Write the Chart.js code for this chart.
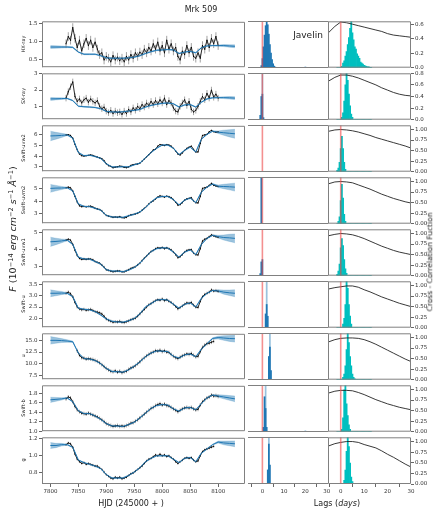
<!DOCTYPE html>
<html>
<head>
<meta charset="utf-8">
<script src="https://cdn.jsdelivr.net/npm/chart.js@4.4.0/dist/chart.umd.min.js"></script>
<style>
  body { margin:0; background:#fff; width:439px; height:510px; position:relative; overflow:hidden; font-family:"DejaVu Sans", sans-serif; }
  canvas { position:absolute; }
  .txt { position:absolute; white-space:nowrap; color:#222; transform:translate(-50%,-50%); line-height:1; }
  .rot { transform:translate(-50%,-50%) rotate(-90deg); }
  sup { font-size:70%; vertical-align:0.45em; line-height:0; }
</style>
</head>
<body>
<script>
// ---- light curves (HJD - 2450000), one point every 4 days ----
const hjd = [7828,7832,7836,7840,7844,7848,7852,7856,7860,7864,
  7868,7872,7876,7880,7884,7888,7892,7896,7900,7904,
  7908,7912,7916,7920,7924,7928,7932,7936,7940,7944,
  7948,7952,7956,7960,7964,7968,7972,7976,7980,7984,
  7988,7992,7996,8000,8004,8008,8012,8016,8020,8024,
  8028,8032,8036,8040,8044,8048,8052,8056,8060,8064,
  8068,8072,8076,8080,8084,8088,8092,8096,8100];

const lcHX = [0.95,1.15,1.05,1.40,1.10,0.85,1.05,0.75,0.95,1.10,
  0.90,1.05,0.85,1.00,0.80,0.65,0.70,0.50,0.60,0.55,
  0.45,0.62,0.50,0.58,0.48,0.55,0.45,0.60,0.50,0.65,
  0.55,0.70,0.60,0.72,0.65,0.80,0.70,0.85,0.75,0.95,
  0.80,1.00,0.75,0.90,0.70,1.05,0.80,0.95,0.75,0.85,
  0.60,0.50,0.75,0.65,0.90,0.70,0.85,0.60,0.55,0.70,
  0.55,0.90,0.80,1.05,0.85,1.10,0.95,1.15,0.90];
const lcSX = [1.50,1.90,2.20,2.50,1.60,1.30,1.45,1.20,1.40,1.50,
  1.25,1.45,1.30,1.20,1.35,1.00,0.85,0.95,0.70,0.60,
  0.75,0.55,0.70,0.60,0.65,0.50,0.70,0.55,0.80,0.65,
  0.90,0.75,1.00,0.85,1.10,0.95,1.20,1.05,1.30,1.10,
  1.35,1.15,1.40,1.20,1.50,1.10,1.35,1.20,0.90,0.70,
  0.65,1.00,1.20,1.40,1.05,1.30,0.80,0.65,0.75,1.00,
  1.30,1.60,1.40,1.80,1.50,2.00,1.55,1.75,1.50];
const lcW2 = [6.00,6.02,5.95,5.70,5.10,4.60,4.20,4.05,4.02,4.05,
  4.08,4.12,4.08,3.98,3.92,3.85,3.78,3.60,3.30,3.12,
  3.05,2.92,2.98,3.02,3.08,3.05,2.95,2.93,3.00,3.15,
  3.22,3.25,3.28,3.35,3.55,3.75,3.95,4.15,4.35,4.60,
  4.65,4.95,5.10,5.05,5.00,5.10,5.05,4.95,4.75,4.50,
  4.20,4.12,4.30,4.55,4.75,4.85,4.95,4.65,4.40,4.40,
  5.20,5.95,6.00,6.05,6.30,6.42,6.30,6.25,6.28];
const lcM2 = [5.10,5.15,5.10,4.85,4.40,3.95,3.65,3.58,3.60,3.57,
  3.60,3.62,3.55,3.45,3.40,3.35,3.25,3.05,2.88,2.82,
  2.78,2.72,2.75,2.73,2.78,2.70,2.68,2.72,2.85,2.92,
  2.95,3.00,3.05,3.15,3.30,3.45,3.60,3.80,3.95,4.05,
  4.20,4.35,4.45,4.40,4.35,4.42,4.38,4.30,4.15,3.95,
  3.70,3.75,3.90,4.10,4.20,4.25,4.30,4.05,3.90,3.88,
  4.40,5.05,5.10,5.15,5.30,5.45,5.30,5.25,5.20];
const lcW1 = [4.55,4.60,4.55,4.30,3.95,3.65,3.48,3.42,3.45,3.42,
  3.45,3.44,3.40,3.30,3.25,3.20,3.10,2.98,2.82,2.78,
  2.74,2.70,2.72,2.75,2.74,2.70,2.70,2.76,2.82,2.90,
  2.95,3.00,3.10,3.20,3.35,3.50,3.62,3.75,3.88,3.95,
  4.05,4.10,4.08,4.12,4.05,4.10,4.05,3.98,3.85,3.70,
  3.52,3.58,3.70,3.85,3.95,3.98,4.00,3.80,3.70,3.68,
  4.05,4.50,4.60,4.65,4.75,4.85,4.80,4.75,4.72];
const lcSU = [3.10,3.15,3.08,2.95,2.70,2.50,2.42,2.38,2.40,2.36,
  2.38,2.40,2.35,2.30,2.28,2.25,2.20,2.10,1.98,1.92,
  1.88,1.84,1.86,1.85,1.88,1.83,1.82,1.86,1.90,1.95,
  1.98,2.02,2.10,2.20,2.30,2.40,2.50,2.60,2.65,2.72,
  2.78,2.82,2.80,2.85,2.78,2.82,2.75,2.70,2.62,2.52,
  2.42,2.48,2.55,2.62,2.68,2.66,2.70,2.58,2.50,2.48,
  2.75,2.95,3.05,3.10,3.15,3.25,3.20,3.22,3.18];
const lcU = [null,null,null,null,null,12.8,11.8,11.3,11.2,11.0,
  11.1,11.0,10.9,10.7,10.5,10.2,9.8,9.4,9.0,8.7,
  8.4,8.3,8.5,8.2,8.4,8.1,8.3,8.4,8.8,9.1,
  9.3,9.6,10.0,10.4,10.9,11.3,11.7,12.0,12.3,12.5,
  12.8,12.7,12.9,12.6,12.8,12.5,12.4,12.0,11.6,11.3,
  11.1,11.4,11.7,11.9,12.1,12.0,12.2,11.8,11.5,11.6,
  12.6,13.5,14.0,14.3,14.4,14.6,14.8,null,null];
const lcSB = [1.68,1.72,1.70,1.62,1.52,1.45,1.41,1.38,1.37,1.36,
  1.38,1.36,1.34,1.32,1.30,1.27,1.24,1.20,1.16,1.14,
  1.12,1.10,1.11,1.12,1.10,1.11,1.10,1.12,1.14,1.17,
  1.18,1.21,1.24,1.28,1.32,1.36,1.40,1.44,1.48,1.50,
  1.54,1.56,1.58,1.55,1.57,1.54,1.53,1.50,1.47,1.44,
  1.41,1.44,1.47,1.49,1.50,1.49,1.50,1.47,1.45,1.46,
  1.55,1.62,1.66,1.70,1.72,1.76,1.74,1.75,1.73];
const lcG = [1.13,1.15,1.14,1.10,1.02,0.96,0.93,0.91,0.92,0.90,
  0.91,0.90,0.89,0.88,0.88,0.86,0.84,0.81,0.78,0.76,
  0.74,0.73,0.75,0.74,0.75,0.73,0.74,0.75,0.77,0.79,
  0.80,0.82,0.84,0.86,0.88,0.91,0.94,0.96,0.97,0.99,
  1.01,1.00,1.02,1.00,1.01,0.99,1.00,0.98,0.96,0.93,
  0.91,0.93,0.95,0.97,0.98,0.97,0.98,0.95,0.93,0.94,
  1.00,1.05,1.07,1.08,1.09,1.10,1.11,null,null];
const lcErr = [0.12, 0.2, 0.06, 0.08, 0.07, 0.07, 0.4, 0.04, 0.015];

// ---- Javelin model mean and 1-sigma, every 10 days ----
const modelDays = [7800,7810,7820,7830,7840,7850,7860,7870,7880,7890,
  7900,7910,7920,7930,7940,7950,7960,7970,7980,7990,
  8000,8010,8020,8030,8040,8050,8060,8070,8080,8090,
  8100,8110,8120,8130];
const mdHX = [0.86,0.86,0.86,0.86,0.85,0.72,0.66,0.66,0.66,0.62,
  0.56,0.55,0.55,0.55,0.56,0.58,0.62,0.68,0.73,0.77,
  0.78,0.79,0.78,0.68,0.72,0.74,0.70,0.84,0.89,0.90,
  0.90,0.90,0.89,0.88];
const sdHX = [0.04,0.035,0.028,0.018,0.015,0.015,0.015,0.015,0.015,0.015,
  0.015,0.015,0.015,0.015,0.015,0.015,0.015,0.015,0.015,0.015,
  0.015,0.015,0.015,0.015,0.015,0.015,0.015,0.015,0.015,0.015,
  0.018,0.028,0.035,0.04];
const mdSX = [1.45,1.46,1.47,1.48,1.35,1.00,0.97,0.95,0.92,0.85,
  0.68,0.65,0.64,0.66,0.70,0.75,0.80,0.95,1.05,1.12,
  1.18,1.20,1.15,0.95,1.08,1.10,0.95,1.25,1.45,1.52,
  1.53,1.53,1.52,1.50];
const sdSX = [0.09,0.07,0.05,0.03,0.03,0.03,0.03,0.03,0.03,0.03,
  0.03,0.03,0.03,0.03,0.03,0.03,0.03,0.03,0.03,0.03,
  0.03,0.03,0.03,0.03,0.03,0.03,0.03,0.03,0.03,0.03,
  0.04,0.06,0.08,0.09];
const mdW2 = [5.90,5.92,5.95,6.00,5.70,4.35,4.05,4.10,3.98,3.80,
  3.30,3.00,3.00,3.02,3.00,3.20,3.35,3.85,4.35,4.75,
  5.05,5.05,4.75,4.15,4.55,4.85,4.40,5.60,6.05,6.35,
  6.25,6.20,6.15,6.10];
const sdW2 = [0.45,0.32,0.20,0.06,0.04,0.04,0.04,0.04,0.04,0.04,
  0.04,0.04,0.04,0.04,0.04,0.04,0.04,0.04,0.04,0.04,
  0.04,0.04,0.04,0.04,0.04,0.04,0.04,0.04,0.04,0.04,
  0.12,0.24,0.34,0.42];
const mdM2 = [5.05,5.07,5.08,5.10,4.85,3.80,3.60,3.58,3.45,3.30,
  2.88,2.75,2.74,2.72,2.85,2.97,3.15,3.50,3.95,4.30,
  4.40,4.40,4.15,3.72,4.10,4.28,3.90,4.75,5.15,5.40,
  5.22,5.20,5.18,5.15];
const sdM2 = [0.32,0.22,0.13,0.04,0.035,0.035,0.035,0.035,0.035,0.035,
  0.035,0.035,0.035,0.035,0.035,0.035,0.035,0.035,0.035,0.035,
  0.035,0.035,0.035,0.035,0.035,0.035,0.035,0.035,0.035,0.035,
  0.10,0.18,0.25,0.32];
const mdW1 = [4.45,4.47,4.50,4.55,4.30,3.55,3.45,3.44,3.30,3.15,
  2.82,2.74,2.74,2.70,2.80,2.95,3.20,3.55,3.88,4.05,
  4.10,4.08,3.85,3.55,3.85,3.98,3.70,4.30,4.65,4.83,
  4.75,4.70,4.68,4.65];
const sdW1 = [0.27,0.19,0.11,0.04,0.03,0.03,0.03,0.03,0.03,0.03,
  0.03,0.03,0.03,0.03,0.03,0.03,0.03,0.03,0.03,0.03,
  0.03,0.03,0.03,0.03,0.03,0.03,0.03,0.03,0.03,0.03,
  0.08,0.15,0.21,0.26];
const mdSU = [3.10,3.10,3.11,3.10,2.95,2.45,2.40,2.38,2.30,2.15,
  1.98,1.88,1.85,1.84,1.90,2.00,2.20,2.50,2.65,2.80,
  2.83,2.80,2.62,2.45,2.62,2.68,2.50,2.88,3.10,3.22,
  3.20,3.15,3.12,3.10];
const sdSU = [0.15,0.11,0.07,0.025,0.02,0.02,0.02,0.02,0.02,0.02,
  0.02,0.02,0.02,0.02,0.02,0.02,0.02,0.02,0.02,0.02,
  0.02,0.02,0.02,0.02,0.02,0.02,0.02,0.02,0.02,0.02,
  0.05,0.09,0.12,0.15];
const mdU = [15.00,15.00,14.95,14.85,14.70,12.30,11.10,11.00,10.70,10.00,
  9.00,8.35,8.30,8.20,8.70,9.50,10.40,11.50,12.30,12.75,
  12.70,12.60,11.60,11.20,11.90,12.10,11.50,13.10,14.30,15.40,
  15.60,15.50,15.40,15.35];
const sdU = [0.80,0.60,0.42,0.28,0.15,0.10,0.10,0.10,0.10,0.10,
  0.10,0.10,0.10,0.10,0.10,0.10,0.10,0.10,0.10,0.10,
  0.10,0.10,0.10,0.10,0.10,0.10,0.10,0.10,0.10,0.15,
  0.30,0.50,0.62,0.72];
const mdSB = [1.66,1.67,1.68,1.70,1.62,1.43,1.37,1.37,1.32,1.25,
  1.16,1.11,1.11,1.10,1.14,1.19,1.28,1.38,1.48,1.54,
  1.56,1.55,1.47,1.42,1.49,1.50,1.45,1.58,1.70,1.76,
  1.74,1.72,1.70,1.68];
const sdSB = [0.055,0.04,0.025,0.01,0.01,0.01,0.01,0.01,0.01,0.01,
  0.01,0.01,0.01,0.01,0.01,0.01,0.01,0.01,0.01,0.01,
  0.01,0.01,0.01,0.01,0.01,0.01,0.01,0.01,0.01,0.01,
  0.025,0.04,0.05,0.06];
const mdG = [1.12,1.12,1.13,1.13,1.10,0.95,0.92,0.90,0.88,0.85,
  0.78,0.74,0.74,0.74,0.77,0.81,0.86,0.93,0.97,1.00,
  1.00,1.00,0.96,0.92,0.97,0.98,0.93,1.03,1.08,1.13,
  1.16,1.15,1.145,1.14];
const sdG = [0.035,0.025,0.015,0.006,0.005,0.005,0.005,0.005,0.005,0.005,
  0.005,0.005,0.005,0.005,0.005,0.005,0.005,0.005,0.005,0.005,
  0.005,0.005,0.005,0.005,0.005,0.005,0.005,0.005,0.005,0.005,
  0.012,0.022,0.028,0.034];

// ---- Javelin lag posteriors (middle column), normalised counts ----
const midBins = [-1,-0.5,0,0.5,1,1.5,2,2.5,3,3.5,4,4.5,5,5.5,6,6.5,19.5,20,20.5];
const jvHX = [0,0.05,0.2,0.45,0.7,0.9,1.0,0.92,0.72,0.5,0.32,0.18,0.09,0.04,0.02,0.01,0.01,0.02,0.01];
const jvSX = [0.1,0.5,0.55,0.05,0,0,0,0,0,0,0,0,0,0,0,0,0,0,0];
const jvSXb = [0,0,1.0,0,0,0,0,0,0,0,0,0,0,0,0,0,0,0,0];
const jvW2 = [0,0,0,0,0,0,0,0,0,0,0,0,0,0,0,0,0,0,0];
const jvM2 = [0,1.0,0,0,0,0,0,0,0,0,0,0,0,0,0,0,0,0,0];
const jvW1 = [0.05,0.3,0.35,0,0,0,0,0,0,0,0,0,0,0,0,0,0,0,0];
const jvSU = [0,0,0,0,0,0.3,0.5,0.25,0,0,0,0,0,0,0,0,0,0,0];
const jvSUb = [0,0,0,0,0,0,1.0,0,0,0,0,0,0,0,0,0,0,0,0];
const jvU = [0,0,0,0,0,0,0,0,0.5,0.7,0.2,0,0,0,0,0,0,0,0];
const jvUb = [0,0,0,0,0,0,0,0,0,1.0,0,0,0,0,0,0,0,0,0];
const jvSB = [0,0,0,0.1,0.75,0.5,0.1,0,0,0,0,0,0,0,0,0,0,0.02,0];
const jvSBb = [0,0,0,0,0,1.0,0,0,0,0,0,0,0,0,0,0,0,0,0];
const jvG = [0,0,0,0,0,0,0,0.3,0.85,0.4,0,0,0,0,0,0,0,0,0];
const jvGb = [0,0,0,0,0,0,0,0,1.0,0,0,0,0,0,0,0,0,0,0];

// ---- ICCF centroid distributions (right column, cyan) ----
const ccBins = [-1.5,-1,-0.5,0,0.5,1,1.5,2,2.5,3,3.5,4,4.5,5,5.5,6,6.5,7,7.5,8,8.5,9,9.5,10,10.5,11,11.5,12,12.5,13];
const chHX = [0,0,0,0,0.03,0.1,0.15,0.25,0.35,0.5,0.65,0.85,1.0,0.75,0.6,0.45,0.4,0.3,0.25,0.2,0.12,0.1,0.08,0.05,0.04,0.03,0.02,0.02,0.01,0.01];
const chSX = [0,0,0,0,0.05,0.15,0.4,0.75,1.0,0.85,0.55,0.3,0.12,0.05,0,0,0,0,0,0,0,0,0,0,0,0,0,0,0,0];
const chW2 = [0.03,0.08,0.2,0.5,0.76,0.5,0.2,0.05,0,0,0,0,0,0,0,0,0,0,0,0,0,0,0,0,0,0,0,0,0,0];
const chM2 = [0,0.05,0.15,0.5,0.85,0.55,0.2,0.05,0,0,0,0,0,0,0,0,0,0,0,0,0,0,0,0,0,0,0,0,0,0];
const chW1 = [0.03,0.1,0.25,0.6,0.8,0.65,0.35,0.15,0.05,0,0,0,0,0,0,0,0,0,0,0,0,0,0,0,0,0,0,0,0,0];
const chSU = [0,0,0,0,0,0.08,0.2,0.5,1.0,0.85,0.5,0.25,0.08,0,0,0,0,0,0,0,0,0,0,0,0,0,0,0,0,0];
const chU = [0,0,0,0,0,0.05,0.12,0.3,0.65,1.0,0.8,0.5,0.3,0.12,0.05,0.02,0,0,0,0,0,0,0,0,0,0,0,0,0,0];
const chSB = [0,0,0,0,0.05,0.3,0.9,1.0,0.6,0.35,0.15,0.05,0,0,0,0,0,0,0,0,0,0,0,0,0,0,0,0,0,0];
const chG = [0,0,0,0,0,0,0.08,0.3,0.7,1.0,0.8,0.45,0.15,0.05,0,0,0,0,0,0,0,0,0,0,0,0,0,0,0,0];

// ---- cross-correlation functions ----
const ccfLags = [-5,-2.5,0,2.5,5,7.5,10,12.5,15,17.5,20,22.5,25,27.5,30];
const ccfHX = [0.49,0.57,0.63,0.62,0.60,0.58,0.56,0.54,0.52,0.50,0.47,0.45,0.44,0.43,0.42];
const ccfSX = [0.67,0.73,0.77,0.77,0.75,0.72,0.68,0.64,0.60,0.55,0.51,0.47,0.44,0.42,0.41];
const ccfW2 = [0.96,0.99,1.00,0.99,0.97,0.94,0.90,0.86,0.81,0.77,0.73,0.69,0.65,0.61,0.56];
const ccfM2 = [0.95,0.99,1.00,0.99,0.97,0.92,0.87,0.82,0.76,0.70,0.65,0.60,0.56,0.52,0.49];
const ccfW1 = [0.95,0.98,1.00,0.99,0.97,0.93,0.88,0.82,0.76,0.70,0.65,0.60,0.56,0.53,0.50];
const ccfSU = [0.92,0.95,0.97,0.99,0.99,0.96,0.90,0.85,0.79,0.73,0.68,0.63,0.58,0.54,0.50];
const ccfU = [0.90,0.95,0.98,0.99,0.99,0.98,0.95,0.90,0.84,0.77,0.70,0.63,0.56,0.49,0.43];
const ccfSB = [0.92,0.96,0.98,0.98,0.97,0.93,0.88,0.82,0.76,0.71,0.66,0.62,0.58,0.55,0.52];
const ccfG = [0.90,0.95,0.98,1.00,1.00,0.98,0.93,0.89,0.85,0.78,0.70,0.63,0.55,0.47,0.40];

const bandNames = ['HX-ray','SX-ray','Swift-uvw2','Swift-uvm2','Swift-uvw1','Swift-u','u','Swift-b','g'];

// ---- assemble rows ----
const rows = [
  {lc:lcHX, md:mdHX, sd:sdHX, jv:jvHX, jvb:null,  ch:chHX, ccf:ccfHX},
  {lc:lcSX, md:mdSX, sd:sdSX, jv:jvSX, jvb:jvSXb, ch:chSX, ccf:ccfSX},
  {lc:lcW2, md:mdW2, sd:sdW2, jv:jvW2, jvb:null,  ch:chW2, ccf:ccfW2},
  {lc:lcM2, md:mdM2, sd:sdM2, jv:jvM2, jvb:null,  ch:chM2, ccf:ccfM2},
  {lc:lcW1, md:mdW1, sd:sdW1, jv:jvW1, jvb:null,  ch:chW1, ccf:ccfW1},
  {lc:lcSU, md:mdSU, sd:sdSU, jv:jvSU, jvb:jvSUb, ch:chSU, ccf:ccfSU},
  {lc:lcU,  md:mdU,  sd:sdU,  jv:jvU,  jvb:jvUb,  ch:chU,  ccf:ccfU},
  {lc:lcSB, md:mdSB, sd:sdSB, jv:jvSB, jvb:jvSBb, ch:chSB, ccf:ccfSB},
  {lc:lcG,  md:mdG,  sd:sdG,  jv:jvG,  jvb:jvGb,  ch:chG,  ccf:ccfG}
];

// axis setup per row
const yMin  = [0.3, 0.2, 2.6, 2.25, 2.5, 1.62, 6.7, 1.0, 0.67];
const yMax  = [1.56, 3.0, 6.85, 5.9, 5.15, 3.6, 16.4, 1.955, 1.21];
const yStep = [0.5, 1, 1, 1, 1, 0.5, 2.5, 0.2, 0.2];
const yDec  = [1, 0, 0, 0, 0, 1, 1, 1, 1];
const ccMax = [0.64, 0.8, 1.1, 1.1, 1.1, 1.1, 1.1, 1.1, 1.1];

Chart.defaults.font.family = "'DejaVu Sans', sans-serif";
Chart.defaults.font.size = 5.5;
Chart.defaults.color = '#333';

const BLUE = '#1f77b4';
const FRAME = '#808080';

function addCanvas(left, top, w, h) {
  const c = document.createElement('canvas');
  c.width = w; c.height = h;
  c.style.left = left + 'px'; c.style.top = top + 'px';
  c.style.width = w + 'px'; c.style.height = h + 'px';
  document.body.appendChild(c);
  return c;
}

function addText(html, x, y, size, rot) {
  const d = document.createElement('div');
  d.className = rot ? 'txt rot' : 'txt';
  d.style.left = x + 'px'; d.style.top = y + 'px';
  d.style.fontSize = size + 'px';
  d.innerHTML = html;
  document.body.appendChild(d);
}

function framePlugin(skipLeft) {
  return {
    id: 'frame',
    afterDraw(chart) {
      const a = chart.chartArea, ctx = chart.ctx;
      ctx.save();
      ctx.strokeStyle = FRAME; ctx.lineWidth = 1;
      ctx.beginPath();
      if (!skipLeft) { ctx.moveTo(a.left + 0.5, a.bottom); ctx.lineTo(a.left + 0.5, a.top); }
      else ctx.moveTo(a.left, a.top + 0.5);
      ctx.lineTo(a.right - 0.5, a.top + 0.5);
      ctx.lineTo(a.right - 0.5, a.bottom - 0.5);
      ctx.lineTo(a.left, a.bottom - 0.5);
      ctx.stroke();
      ctx.restore();
    }
  };
}

function errPlugin(ys, err) {
  return {
    id: 'errbars',
    beforeDatasetDraw(chart, args) {
      if (args.index !== 1) return;
      const x = chart.scales.x, y = chart.scales.y, a = chart.chartArea, ctx = chart.ctx;
      ctx.save();
      ctx.beginPath(); ctx.rect(a.left, a.top, a.right - a.left, a.bottom - a.top); ctx.clip();
      ctx.strokeStyle = '#8c8c8c'; ctx.lineWidth = 0.8;
      ctx.beginPath();
      hjd.forEach((d, k) => {
        if (ys[k] == null) return;
        const px = x.getPixelForValue(d);
        ctx.moveTo(px, y.getPixelForValue(ys[k] - err));
        ctx.lineTo(px, y.getPixelForValue(ys[k] + err));
      });
      ctx.stroke();
      ctx.restore();
    }
  };
}

const zeroLine = {
  id: 'zeroLine',
  afterDatasetsDraw(chart) {
    const a = chart.chartArea, ctx = chart.ctx;
    const px = chart.scales.x.getPixelForValue(0);
    ctx.save();
    ctx.strokeStyle = 'rgba(236,70,70,0.6)'; ctx.lineWidth = 1.6;
    ctx.beginPath(); ctx.moveTo(px, a.top); ctx.lineTo(px, a.bottom); ctx.stroke();
    ctx.restore();
  }
};

const common = {
  responsive: false, animation: false, devicePixelRatio: 1, events: [],
  plugins: { legend: { display: false }, tooltip: { enabled: false } }
};
const tickGrid = { display: true, drawOnChartArea: false, drawTicks: true, tickLength: 3, color: '#666' };

function xAxis(min, max, show) {
  return {
    type: 'linear', min: min, max: max, display: show, offset: false,
    afterFit: s => { s.height = show ? 16 : 0; },
    ticks: { stepSize: min > 1000 ? 50 : 10, includeBounds: false, autoSkip: false, maxRotation: 0,
             padding: 1, callback: v => String(v) },
    grid: tickGrid, border: { display: false }
  };
}

rows.forEach((r, i) => {
  const last = i === rows.length - 1;
  const T = 21 + 52 * i;
  const h = last ? 67 : 55;
  const pad = { top: 4, bottom: last ? 0 : 4 };

  // light curve + Javelin model
  const up = modelDays.map((d, k) => ({ x: d, y: r.md[k] + r.sd[k] }));
  const lo = modelDays.map((d, k) => ({ x: d, y: r.md[k] - r.sd[k] }));
  new Chart(addCanvas(0, T - 4, 249, h), {
    type: 'line',
    data: { datasets: [
      { data: modelDays.map((d, k) => ({ x: d, y: r.md[k] })), borderColor: BLUE, borderWidth: 1, pointRadius: 0, order: 0 },
      { data: hjd.map((d, k) => ({ x: d, y: r.lc[k] })), borderColor: '#111', borderWidth: 0.9, pointRadius: 0.6,
        pointBackgroundColor: '#000', pointBorderWidth: 0, spanGaps: false, order: 1 },
      { data: up, borderColor: 'rgba(31,119,180,0.4)', borderWidth: 0.5, pointRadius: 0, fill: '+1',
        backgroundColor: 'rgba(31,119,180,0.45)', order: 2 },
      { data: lo, borderColor: 'rgba(31,119,180,0.4)', borderWidth: 0.5, pointRadius: 0, order: 3 }
    ] },
    options: Object.assign({}, common, {
      layout: { padding: { left: 14, right: 1, top: pad.top, bottom: pad.bottom } },
      scales: {
        x: xAxis(7785, 8148, last),
        y: { min: yMin[i], max: yMax[i], afterFit: s => { s.width = 28; },
             ticks: { stepSize: yStep[i], includeBounds: false, padding: 1.5, callback: v => v.toFixed(yDec[i]) },
             grid: tickGrid, border: { display: false } }
      }
    }),
    plugins: [framePlugin(false), errPlugin(r.lc, lcErr[i])]
  });

  // Javelin lag posterior
  const midSets = [{ type: 'bar', data: midBins.map((b, k) => ({ x: b, y: r.jv[k] })), backgroundColor: BLUE,
                     barPercentage: 1, categoryPercentage: 1, grouped: false, order: 0 }];
  if (r.jvb) midSets.push({ type: 'bar', data: midBins.map((b, k) => ({ x: b, y: r.jvb[k] })),
                     backgroundColor: 'rgba(31,119,180,0.45)', barPercentage: 1, categoryPercentage: 1, grouped: false, order: 1 });
  new Chart(addCanvas(248, T - 4, 86, h), {
    type: 'bar',
    data: { datasets: midSets },
    options: Object.assign({}, common, {
      layout: { padding: { left: 0, right: 5, top: pad.top, bottom: pad.bottom } },
      scales: {
        x: xAxis(-6.7, 31, last),
        y: { min: 0, max: 1, display: false }
      }
    }),
    plugins: [framePlugin(true), zeroLine]
  });

  // ICCF distribution + CCF
  new Chart(addCanvas(329, T - 4, 110, h), {
    type: 'bar',
    data: { datasets: [
      { type: 'line', data: ccfLags.map((l, k) => ({ x: l, y: r.ccf[k] })), borderColor: '#222', borderWidth: 0.9,
        pointRadius: 0, yAxisID: 'y', order: 0 },
      { type: 'bar', data: ccBins.map((b, k) => ({ x: b, y: r.ch[k] })), backgroundColor: '#00bfbf',
        barPercentage: 1, categoryPercentage: 1, grouped: false, yAxisID: 'yh', order: 1 }
    ] },
    options: Object.assign({}, common, {
      layout: { padding: { left: 0, right: 6, top: pad.top, bottom: pad.bottom } },
      scales: {
        x: xAxis(-5, 30, last),
        yh: { position: 'left', min: 0, max: 1, display: false },
        y: { position: 'right', min: 0, max: ccMax[i], afterFit: s => { s.width = 22; },
             ticks: { stepSize: i < 2 ? 0.2 : 0.25, includeBounds: false, padding: 1, callback: v => v.toFixed(i < 2 ? 1 : 2) },
             grid: tickGrid, border: { display: false } }
      }
    }),
    plugins: [framePlugin(true), zeroLine]
  });

  addText(bandNames[i], 23, T + 23, 5, true);
});

addText('Mrk 509', 201, 10, 8, false);
addText('Javelin', 308, 35, 9, false);
addText('<i>F</i> (10<sup>−14</sup> <i>erg cm</i><sup>−2</sup> <i>s</i><sup>−1</sup> <i>Å</i><sup>−1</sup>)', 13, 229, 9.5, true);
addText('Cross - Correlation Fuction', 430, 262, 7.5, true);
addText('HJD (245000 + )', 131, 504, 8, false);
addText('Lags (<i>days</i>)', 337, 504, 8, false);
</script>
</body>
</html>
